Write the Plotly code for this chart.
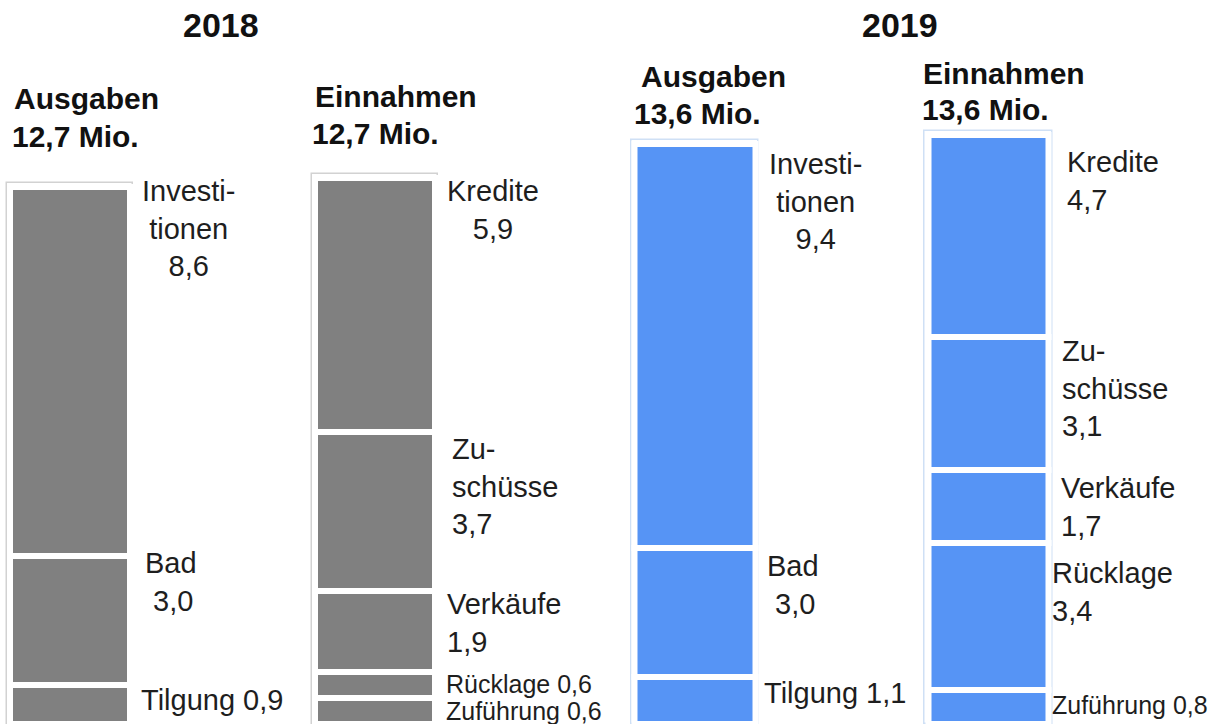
import plotly.graph_objects as go
from plotly.subplots import make_subplots

# ---------------- data ----------------
years = ["2018", "2019"]
ausgaben_labels = ["Investitionen", "Bad", "Tilgung"]           # top -> bottom
ausgaben_2018 = [8.6, 3.0, 0.9]
ausgaben_2019 = [9.4, 3.0, 1.1]
einnahmen_labels = ["Kredite", "Zuschüsse", "Verkäufe", "Rücklage", "Zuführung"]  # top -> bottom
einnahmen_2018 = [5.9, 3.7, 1.9, 0.6, 0.6]
einnahmen_2019 = [4.7, 3.1, 1.7, 3.4, 0.8]
totals_ausgaben = [12.7, 13.6]
totals_einnahmen = [12.7, 13.6]

# ---------------- styles ----------------
W, H = 1219, 724
PX_PER_UNIT = 43.0
FONT = "Liberation Sans, Arial, sans-serif"
TXT = "#1e1e1e"
bar_colors = {"2018": "#808080", "2019": "#5694f5"}
frame_colors = {"2018": "#d2d2d2", "2019": "#cfe0f5"}
FRAME_PAD = 0.09  # extra height of the faint frame above each stack (style)
# per subplot x-axis ranges (layout) and bar widths
x_ranges = {"2018": [-0.2295, 1.769], "2019": [-0.2913, 1.7853]}
seg_width = {"2018": 0.393, "2019": 0.409}
frame_width = {"2018": 0.416, "2019": 0.433}

# label templates: (template, align, xanchor, xshift, yshift, size)
NB = "\u00a0"
label_style = {
    ("2018", "Investitionen"): ("Investi-<br>tionen<br>{v}", "center", "center", 119, 14, 29),
    ("2018", "Bad"): ("Bad<br>" + NB + "{v}", "left", "left", 73, 11, 29),
    ("2018", "Tilgung"): ("Tilgung {v}", "left", "left", 69, 3, 29),
    ("2018", "Kredite"): ("Kredite<br>{v}", "center", "center", 118, 5, 29),
    ("2018", "Zuschüsse"): ("Zu-<br>schüsse<br>{v}", "left", "left", 75, 1, 29),
    ("2018", "Verkäufe"): ("Verkäufe<br>{v}", "left", "left", 70, 5, 29),
    ("2018", "Rücklage"): ("Rücklage {v}", "left", "left", 69, 4, 25),
    ("2018", "Zuführung"): ("Zuführung {v}", "left", "left", 69, 3, 25),
    ("2019", "Investitionen"): ("Investi-<br>tionen<br>{v}", "center", "center", 120, -2, 29),
    ("2019", "Bad"): ("Bad<br>" + NB + "{v}", "left", "left", 70, 0, 29),
    ("2019", "Tilgung"): ("Tilgung {v}", "left", "left", 67, 2, 29),
    ("2019", "Kredite"): ("Kredite<br>{v}", "left", "left", 76, -9, 29),
    ("2019", "Zuschüsse"): ("Zu-<br>schüsse<br>{v}", "left", "left", 71, 4, 29),
    ("2019", "Verkäufe"): ("Verkäufe<br>{v}", "left", "left", 70, 0, 29),
    ("2019", "Rücklage"): ("Rücklage<br>{v}", "left", "left", 61, -12, 29),
    ("2019", "Zuführung"): ("Zuführung {v}", "left", "left", 61, 1, 25),
}


def fmt(v):
    return f"{v:.1f}".replace(".", ",")


# header texts: (text, left/center px, cap-top px, size, xanchor)
header_items = [
    (years[0], 221, 14, 34, "center"),
    (years[1], 900, 14, 34, "center"),
    ("Ausgaben", 12, 90, 30, "left"),
    (fmt(totals_ausgaben[0]) + " Mio.", 10, 128, 30, "left"),
    ("Einnahmen", 313, 88, 30, "left"),
    (fmt(totals_einnahmen[0]) + " Mio.", 310, 125, 30, "left"),
    ("Ausgaben", 639, 68, 30, "left"),
    (fmt(totals_ausgaben[1]) + " Mio.", 632, 105, 30, "left"),
    ("Einnahmen", 921, 65, 30, "left"),
    (fmt(totals_einnahmen[1]) + " Mio.", 920, 101, 30, "left"),
]

# ---------------- figure ----------------
fig = make_subplots(rows=1, cols=2, shared_yaxes=True, horizontal_spacing=0)

data = {
    "2018": [(ausgaben_labels, ausgaben_2018), (einnahmen_labels, einnahmen_2018)],
    "2019": [(ausgaben_labels, ausgaben_2019), (einnahmen_labels, einnahmen_2019)],
}

annotations = []
for col, yr in enumerate(years, start=1):
    xref = "x" if col == 1 else "x2"
    yref = "y" if col == 1 else "y2"
    bars = data[yr]
    # faint frames behind each stacked bar
    fig.add_trace(go.Bar(
        x=[0, 1], y=[sum(v) + FRAME_PAD for _, v in bars], base=[0, 0],
        width=frame_width[yr],
        marker=dict(color="white", line=dict(color=frame_colors[yr], width=1.5)),
        hoverinfo="skip", showlegend=False), row=1, col=col)
    for k, (labels, vals) in enumerate(bars):
        bases = [sum(vals[i + 1:]) for i in range(len(vals))]
        fig.add_trace(go.Bar(
            x=[k] * len(vals), y=vals, base=bases,
            width=seg_width[yr],
            marker=dict(color=bar_colors[yr], line=dict(color="white", width=6)),
            hoverinfo="skip", showlegend=False), row=1, col=col)
        for lab, v, b in zip(labels, vals, bases):
            tpl, align, xanchor, xs, ys, size = label_style[(yr, lab)]
            annotations.append(dict(
                x=k, y=b + v, xref=xref, yref=yref,
                text=tpl.format(v=fmt(v)), showarrow=False,
                xanchor=xanchor, yanchor="top", align=align,
                xshift=xs, yshift=ys,
                font=dict(family=FONT, size=size, color=TXT)))

for text, px, cap, size, xanchor in header_items:
    top = cap - (4 + 0.189 * size)
    annotations.append(dict(
        x=px / W, y=1 - top / H, xref="paper", yref="paper",
        text="<b>" + text + "</b>", showarrow=False,
        xanchor=xanchor, yanchor="top",
        font=dict(family=FONT, size=size, color="#111111")))

ymax = H / PX_PER_UNIT
fig.update_layout(
    width=W, height=H, autosize=False,
    margin=dict(l=0, r=0, t=0, b=0),
    barmode="overlay", bargap=0,
    paper_bgcolor="white", plot_bgcolor="white",
    showlegend=False, hovermode=False,
    annotations=annotations,
)
fig.update_xaxes(visible=False)
fig.update_yaxes(visible=False, range=[0, ymax])
fig.layout.xaxis.range = x_ranges["2018"]
fig.layout.xaxis2.range = x_ranges["2019"]

fig.write_html("out.html")
